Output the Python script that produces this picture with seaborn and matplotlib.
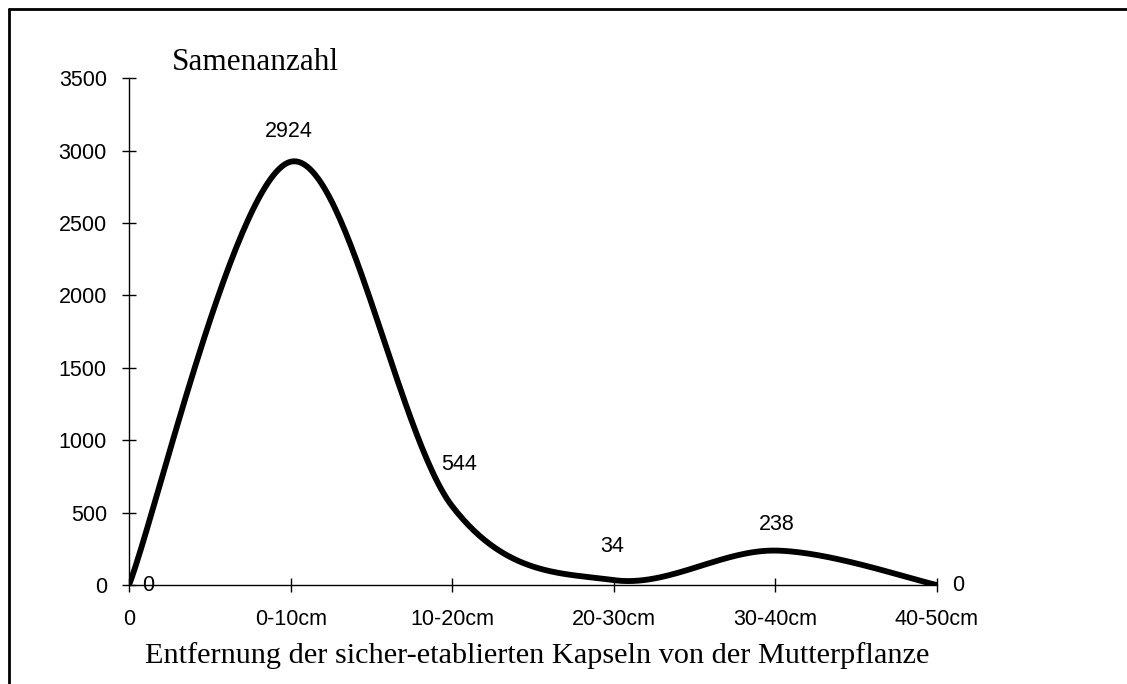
import numpy as np
import matplotlib
matplotlib.use("Agg")
import matplotlib.pyplot as plt
import seaborn as sns
from matplotlib.lines import Line2D

categories = ["0", "0-10cm", "10-20cm", "20-30cm", "30-40cm", "40-50cm"]
samen = [0, 2924, 544, 34, 238, 0]
y_ticks = [0, 500, 1000, 1500, 2000, 2500, 3000, 3500]

sns.set_theme(style="white")
plt.rcParams['font.family'] = ['Liberation Sans', 'DejaVu Sans']

fig = plt.figure(figsize=(11.27, 6.84), dpi=100)
ax = fig.add_axes([0.1145, 0.1447, 0.7169, 0.7408])


def smooth(xs, ys, n=60):
    # Excel-style smoothed line: Catmull-Rom Bezier segments
    P = np.column_stack([xs, ys]).astype(float)
    P_ext = np.vstack([P[0], P, P[-1]])
    out = []
    t = np.linspace(0, 1, n)[:, None]
    for i in range(len(P) - 1):
        p0, p1, p2, p3 = P_ext[i], P_ext[i + 1], P_ext[i + 2], P_ext[i + 3]
        c1 = p1 + (p2 - p0) / 6.0
        c2 = p2 - (p3 - p1) / 6.0
        b = ((1 - t) ** 3) * p1 + 3 * ((1 - t) ** 2) * t * c1 + 3 * (1 - t) * t ** 2 * c2 + t ** 3 * p2
        out.append(b if i == 0 else b[1:])
    return np.vstack(out)


xpos = np.arange(len(categories))
curve = smooth(xpos, samen)
sns.lineplot(x=curve[:, 0], y=curve[:, 1], ax=ax, color="black", lw=4.2,
             sort=False, estimator=None, solid_capstyle="butt")

# label offsets in pixels (dx, dy upward), alignment
label_pos = [(13, 0, "left"), (-2, 30, "center"), (7, 42, "center"),
             (-2, 34, "center"), (1, 26, "center"), (15, 0, "left")]
for xi, v, (dx, dy, ha) in zip(xpos, samen, label_pos):
    ax.annotate(str(v), (xi, v), xytext=(dx, dy),
                textcoords="offset pixels", ha=ha, va="center",
                fontsize=15.5, color="black")

ax.set_xlim(0, len(categories) - 1)
ax.set_ylim(0, 3500)
ax.set_xticks(xpos)
ax.set_xticklabels(categories, fontsize=15.5)
ax.set_yticks(y_ticks)
ax.set_yticklabels([str(v) for v in y_ticks], fontsize=15.5)
ax.tick_params(axis="both", which="both", direction="inout", length=10,
               width=1, color="black", labelcolor="black", left=True, bottom=True)
ax.tick_params(axis="x", pad=12)
ax.tick_params(axis="y", pad=11)
for s in ["top", "right"]:
    ax.spines[s].set_visible(False)
for s in ["left", "bottom"]:
    ax.spines[s].set_color("black")
    ax.spines[s].set_linewidth(1)
ax.set_facecolor("white")
ax.grid(False)

fig.text(172 / 1127, 1 - 62 / 684, "Samenanzahl", family="Liberation Serif",
         fontsize=22.5, ha="left", va="center", color="black")
fig.text(537 / 1127, 1 - 656 / 684,
         "Entfernung der sicher-etablierten Kapseln von der Mutterpflanze",
         family="Liberation Serif", fontsize=21.8, ha="center", va="center", color="black")

# outer frame (top and left edges visible)
fig.add_artist(Line2D([8.5 / 1127, 1], [1 - 9 / 684, 1 - 9 / 684],
                      transform=fig.transFigure, color="black", lw=2))
fig.add_artist(Line2D([8.5 / 1127, 8.5 / 1127], [0, 1 - 9 / 684],
                      transform=fig.transFigure, color="black", lw=2))

fig.savefig("out.png", dpi=100, facecolor="white")
